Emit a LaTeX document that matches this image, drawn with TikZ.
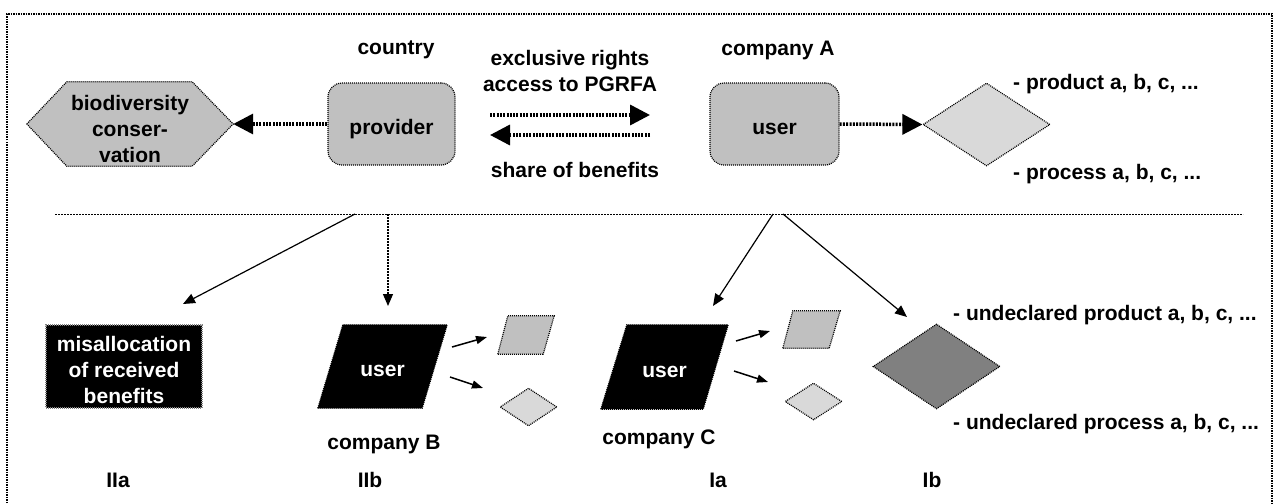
\documentclass[tikz,border=0pt]{standalone}
\usepackage{fontspec}
\setmainfont{Liberation Sans}
\usetikzlibrary{arrows.meta,shapes.geometric,backgrounds}
\definecolor{midgray}{HTML}{C0C0C0}
\definecolor{lightgray2}{HTML}{D9D9D9}
\definecolor{darkgray2}{HTML}{808080}
\begin{document}
\begin{tikzpicture}[x=1pt,y=-1pt,
  every node/.style={font=\fontsize{21}{26}\selectfont\bfseries, inner sep=0pt},
  lbl/.style={text height=19pt, text depth=4pt},
  intext/.style={text height=24pt, text depth=4pt},
  txt/.style={align=center},
  ltxt/.style={anchor=west, lbl},
  border/.style={line width=1.2pt, dash pattern=on 1pt off 1pt},
  frame/.style={line width=1.5pt, dash pattern=on 1.5pt off 1pt},
  boxnode/.style={rectangle, rounded corners=14pt, draw, border, fill=midgray, minimum height=82pt, intext},
  hexnode/.style={align=center, minimum width=206pt, minimum height=84pt},
  dia/.style={diamond, draw, border},
  paranode/.style={rectangle},
  blackbox/.style={rectangle, draw=gray, border, fill=black, text=white, align=center, minimum width=156pt, minimum height=83pt},
  thickarrow/.style={line width=3.5pt, dash pattern=on 2pt off 1.3pt, -{Triangle[length=20pt,width=20pt]}},
  thinarrow/.style={line width=1.2pt, -{Triangle[length=12pt,width=10pt]}},
  smallarrow/.style={line width=1.5pt, -{Triangle[length=11pt,width=8pt]}},
  sepline/.style={line width=1pt, dash pattern=on 2pt off 1pt}
]
\useasboundingbox (0,0) rectangle (1276,503);
\draw[frame] (7,503) -- (7,14) -- (1272,14) -- (1272,503);

% ---------- upper part ----------
\node[hexnode] (bio) at (130,124) {\rule{0pt}{24.3pt}biodiversity\\conser-\\vation};
\node[txt, lbl] (country) at (396,47) {country};
\node[boxnode, minimum width=127pt] (prov) at (391.5,124) {provider};
\node[txt] (excl) at (570,71) {exclusive rights\\access to PGRFA};
\node[txt, lbl] (share) at (575,170) {share of benefits};
\node[txt, lbl] (compA) at (778,48) {company A};
\node[boxnode, minimum width=129pt] (ua) at (774.5,124) {user};
\node[dia, fill=lightgray2, minimum width=127pt, minimum height=83pt] (dA) at (986.5,124.5) {};
\node[ltxt] (prodA) at (1013,82) {- product a, b, c, ...};
\node[ltxt] (procA) at (1013,172) {- process a, b, c, ...};

\begin{scope}[on background layer]
\draw[border, fill=midgray] (bio.west) -- ([xshift=40pt]bio.north west) -- ([xshift=-41pt]bio.north east) -- (bio.east) -- ([xshift=-41pt]bio.south east) -- ([xshift=40pt]bio.south west) -- cycle;
\end{scope}

\coordinate (exR1) at (490,115);
\coordinate (exR2) at (650,115);
\coordinate (exL1) at (650,135);
\coordinate (exL2) at (490,135);

\draw[thickarrow] (prov.west) -- (bio.east);
\draw[thickarrow] (exR1) -- (exR2);
\draw[thickarrow] (exL1) -- (exL2);
\draw[thickarrow] (ua.east) -- (dA.west);

% ---------- separator ----------
\coordinate (lineL) at (55,214);
\coordinate (lineR) at (1243,214);
\draw[sepline] (lineL) -- (lineR);

% ---------- lower part ----------
\node[blackbox] (mis) at (124,366.5) {\rule{0pt}{21.3pt}misallocation\\of received\\benefits};
\node[paranode, intext, text=white, minimum width=129pt, minimum height=83pt] (uB) at (382.5,366.5) {user};
\node[paranode, minimum width=56pt, minimum height=38pt] (pB) at (526,335) {};
\node[dia, fill=lightgray2, minimum width=57pt, minimum height=38pt] (dB) at (528.5,407) {};
\node[txt, lbl] (compB) at (384,442) {company B};

\node[paranode, intext, text=white, minimum width=127pt, minimum height=84pt] (uC) at (664.5,367) {user};
\node[paranode, minimum width=57pt, minimum height=37pt] (pC) at (811.5,329.5) {};
\node[dia, fill=lightgray2, minimum width=57pt, minimum height=37pt] (dC) at (813.5,401.5) {};
\node[txt, lbl] (compC) at (659,437) {company C};

\node[dia, fill=darkgray2, minimum width=127pt, minimum height=85pt] (dIb) at (936.5,366.5) {};
\node[ltxt] (prodIb) at (953,313) {- undeclared product a, b, c, ...};
\node[ltxt] (procIb) at (953,422) {- undeclared process a, b, c, ...};

\node[txt] (IIa) at (118,480) {IIa};
\node[txt] (IIb) at (370,480) {IIb};
\node[txt] (Ia) at (718,480) {Ia};
\node[txt] (Ib) at (932,480) {Ib};

\begin{scope}[on background layer]
\draw[border, fill=black] (uB.south west) -- ([xshift=25pt]uB.north west) -- (uB.north east) -- ([xshift=-25pt]uB.south east) -- cycle;
\draw[border, fill=midgray] (pB.south west) -- ([xshift=10pt]pB.north west) -- (pB.north east) -- ([xshift=-11pt]pB.south east) -- cycle;
\draw[border, fill=black] (uC.south west) -- ([xshift=26pt]uC.north west) -- (uC.north east) -- ([xshift=-25pt]uC.south east) -- cycle;
\draw[border, fill=midgray] (pC.south west) -- ([xshift=10pt]pC.north west) -- (pC.north east) -- ([xshift=-11pt]pC.south east) -- cycle;
\end{scope}

\coordinate (s1) at (355,214);
\coordinate (s2) at (388,214);
\coordinate (s3) at (773,214);
\coordinate (s4) at (783,214);
\coordinate (e1) at (183,304);
\coordinate (e2) at (388,306);
\coordinate (e3) at (713,306);
\coordinate (e4) at (907,317);
\draw[thinarrow] (s1) -- (e1);
\draw[thinarrow, dash pattern=on 2pt off 1pt] (s2) -- (e2);
\draw[thinarrow] (s3) -- (e3);
\draw[thinarrow] (s4) -- (e4);

\coordinate (bA1) at (452,347);
\coordinate (bA2) at (487,337);
\coordinate (bB1) at (450,377);
\coordinate (bB2) at (483,388);
\coordinate (cA1) at (736,341);
\coordinate (cA2) at (770,331);
\coordinate (cB1) at (734,371);
\coordinate (cB2) at (768,382);
\draw[smallarrow] (bA1) -- (bA2);
\draw[smallarrow] (bB1) -- (bB2);
\draw[smallarrow] (cA1) -- (cA2);
\draw[smallarrow] (cB1) -- (cB2);
\end{tikzpicture}
\end{document}
